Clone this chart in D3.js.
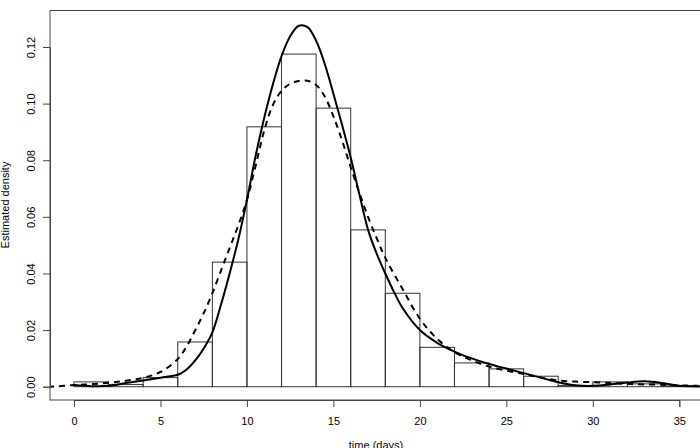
<!DOCTYPE html>
<html><head><meta charset="utf-8">
<script src="https://cdn.jsdelivr.net/npm/d3@7"></script>
<style>body{margin:0;background:#fff}svg{display:block}text{font-family:"Liberation Sans",Arial,sans-serif;fill:#000}</style>
</head><body><svg id="c" width="700" height="448"></svg>
<script>
// histogram bins (width 2 days) and densities
const binStarts = [0,2,4,6,8,10,12,14,16,18,20,22,24,26,28,30,32,34];
const binDensity = [0.0017,0.0008,0.0032,0.0158,0.0440,0.0918,0.1175,0.0984,0.0554,0.0330,0.0139,0.0084,0.0063,0.0037,0.0004,0.0017,0.0010,0.0003];
// solid curve
const solidT = [0,1,2,3,4,5,6,6.5,7,7.5,8,8.5,9,9.5,10,10.5,11,11.5,12,12.5,13,13.5,14,14.5,15,15.5,16,16.5,17,17.5,18,18.5,19,20,21,22,23,24,25,26,27,28,29,30,31,32,33,34,35,36,37];
const solidD = [0.0006,0.0002,0.0003,0.0013,0.0022,0.0032,0.0042,0.0060,0.0092,0.0135,0.0192,0.0290,0.0400,0.0520,0.0660,0.0815,0.0950,0.1068,0.1168,0.1238,0.1275,0.1270,0.1222,0.1140,0.1035,0.0925,0.0810,0.0680,0.0555,0.0470,0.0400,0.0335,0.0278,0.0200,0.0155,0.0124,0.0100,0.0080,0.0064,0.0048,0.0032,0.0016,0.0005,0.0003,0.0008,0.0015,0.0019,0.0013,0.0003,0.0001,0.0000];
// dashed curve
const dashT = [-1.5,-1,0,1,2,3,4,5,6,6.5,7,7.5,8,8.5,9,9.5,10,10.5,11,11.5,12,12.5,13,13.5,14,14.5,15,15.5,16,16.5,17,17.5,18,19,20,21,22,23,24,25,26,27,28,29,30,31,32,33,34,35,36,37];
const dashD = [0.0000,0.0001,0.0006,0.0009,0.0014,0.0021,0.0031,0.0052,0.0098,0.0141,0.0198,0.0260,0.0330,0.0410,0.0490,0.0570,0.0660,0.0780,0.0905,0.0995,0.1045,0.1070,0.1080,0.1081,0.1066,0.1025,0.0955,0.0870,0.0775,0.0685,0.0600,0.0525,0.0455,0.0345,0.0240,0.0169,0.0122,0.0093,0.0071,0.0057,0.0045,0.0032,0.0022,0.0018,0.0016,0.0013,0.0010,0.0008,0.0007,0.0005,0.0003,0.0002];
const xTicks = [0,5,10,15,20,25,30,35];
const yTicks = [0,0.02,0.04,0.06,0.08,0.10,0.12];

const svg = d3.select("#c");
const x = d3.scaleLinear().domain([0,35]).range([74,679.3]);
const y = d3.scaleLinear().domain([0,0.12]).range([386.7,47]);
const box = {l:50, t:10.5, b:400, r:701};

// bars
svg.append("g").selectAll("rect").data(binStarts).join("rect")
  .attr("x", (d)=>x(d)).attr("width", (d)=>x(d+2)-x(d))
  .attr("y", (d,i)=>y(binDensity[i])).attr("height", (d,i)=>y(0)-y(binDensity[i]))
  .attr("fill","none").attr("stroke","#333").attr("stroke-width",1);

svg.append("clipPath").attr("id","pc").append("rect")
  .attr("x",box.l).attr("y",box.t).attr("width",box.r-box.l).attr("height",box.b-box.t);

const line = d3.line().x(d=>x(d[0])).y(d=>y(d[1])).curve(d3.curveCatmullRom.alpha(0.5));
svg.append("path").attr("clip-path","url(#pc)")
  .attr("d", line(dashT.map((t,i)=>[t,dashD[i]])))
  .attr("fill","none").attr("stroke","#000").attr("stroke-width",2).attr("stroke-dasharray","6,5");
svg.append("path").attr("clip-path","url(#pc)")
  .attr("d", line(solidT.map((t,i)=>[t,solidD[i]])))
  .attr("fill","none").attr("stroke","#000").attr("stroke-width",2);

// box
svg.append("rect").attr("x",box.l).attr("y",box.t).attr("width",box.r-box.l).attr("height",box.b-box.t)
  .attr("fill","none").attr("stroke","#444").attr("stroke-width",1);

// x axis
const xa = svg.append("g").attr("transform",`translate(0,${box.b})`)
  .call(d3.axisBottom(x).tickValues(xTicks).tickSize(7).tickPadding(10).tickFormat(d3.format("d")));
xa.select(".domain").attr("stroke","#444");
xa.selectAll(".tick line").attr("stroke","#444");
xa.selectAll("text").attr("font-size",11).attr("font-family","Liberation Sans, Arial, sans-serif");

// y axis
const ya = svg.append("g").attr("transform",`translate(${box.l},0)`)
  .call(d3.axisLeft(y).tickValues(yTicks).tickSize(7).tickFormat(d3.format(".2f")));
ya.select(".domain").attr("stroke","#444");
ya.selectAll(".tick line").attr("stroke","#444");
ya.selectAll("text").attr("font-size",11).attr("font-family","Liberation Sans, Arial, sans-serif")
  .attr("transform","rotate(-90)").attr("x",0).attr("y",-15.5).attr("dy",0).attr("text-anchor","middle");

svg.append("text").attr("x",376).attr("y",449).attr("text-anchor","middle").attr("font-size",11).text("time (days)");
svg.append("text").attr("transform","translate(8.5,205) rotate(-90)").attr("text-anchor","middle").attr("font-size",11).text("Estimated density");
</script></body></html>
